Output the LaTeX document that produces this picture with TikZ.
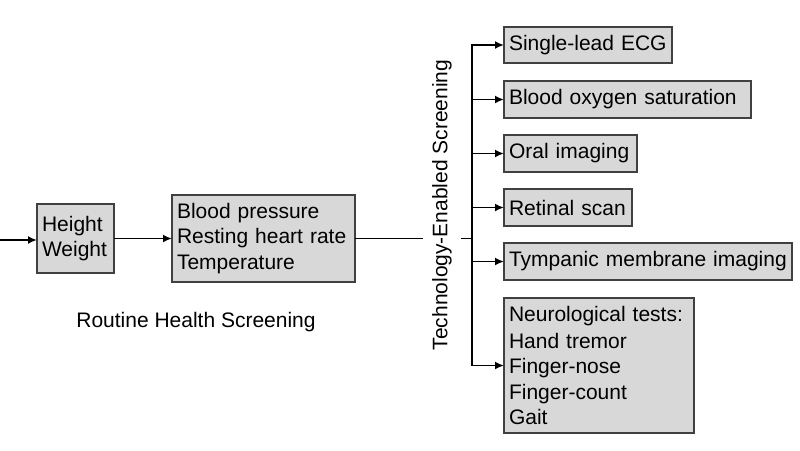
\documentclass[tikz,border=0pt]{standalone}
\usepackage{fontspec}
\setmainfont{Liberation Sans}
\usetikzlibrary{arrows.meta}
\definecolor{boxfill}{HTML}{D8D8D8}
\definecolor{boxline}{HTML}{404040}
\begin{document}
\begin{tikzpicture}[x=1pt,y=-1pt,
  every node/.style={font=\fontsize{21}{25.5}\selectfont},
  itembox/.style={draw=boxline, fill=boxfill, line width=1.4pt, anchor=north west,
    inner xsep=5pt, inner ysep=0pt, outer sep=0pt, align=left},
  conn/.style={line width=1.9pt, black},
  arr/.style={conn, -{Latex[length=9pt,width=8pt]}}]
\useasboundingbox (0,0) rectangle (800,450);

\node[itembox, text width=67pt, minimum height=69pt] (hw) at (37,204) {Height\\Weight};
\node[itembox, text width=173pt, minimum height=87pt] (bp) at (172,195) {Blood pressure\\Resting heart rate\\Temperature};

\node[itembox, text width=158pt, minimum height=36pt] (ecg) at (504,27) {Single-lead ECG};
\node[itembox, text width=237pt, minimum height=37pt] (bo) at (504,81) {Blood oxygen saturation};
\node[itembox, text width=123pt, minimum height=37pt] (oi) at (504,135) {Oral imaging};
\node[itembox, text width=118pt, minimum height=37pt] (rs) at (504,189) {Retinal scan};
\node[itembox, text width=278pt, minimum height=37pt] (tm) at (504,243) {Tympanic membrane imaging};
\node[itembox, text width=180pt, minimum height=135pt] (nt) at (504,298) {Neurological tests:\\[1.5pt]Hand tremor\\Finger-nose\\Finger-count\\Gait};

\coordinate (start) at (0,240);
\coordinate (barx) at (472,0);

\draw[arr] (start) -- (start -| hw.west);
\draw[arr] (hw.east) -- (bp.west);
\draw[conn] (bp.east) -- (bp.east -| barx);
\draw[conn, line cap=rect] (ecg.west -| barx) -- (nt.west -| barx);
\foreach \b in {ecg,bo,oi,rs,tm,nt}
  \draw[arr] (\b.west -| barx) -- (\b.west);

\node[rotate=90, fill=white, inner xsep=1pt, inner ysep=9pt] (tes) at (442,205) {Technology-Enabled Screening};
\node[anchor=base] (rhs) at (196,327) {Routine Health Screening};
\end{tikzpicture}
\end{document}
